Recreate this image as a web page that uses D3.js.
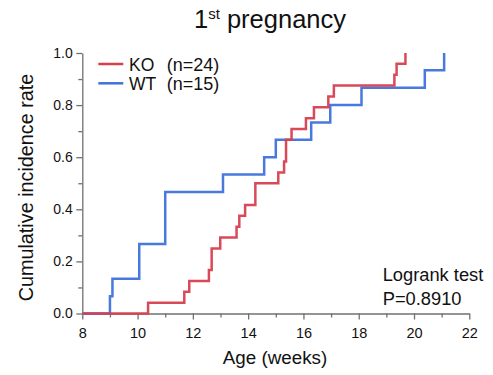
<!DOCTYPE html>
<html>
<head>
<meta charset="utf-8">
<script src="https://cdn.jsdelivr.net/npm/d3@7"></script>
<style>
  body { margin: 0; background: #fff; }
  text { font-family: "Liberation Sans", Arial, sans-serif; fill: #111; }
</style>
</head>
<body>
<figure id="chart" style="margin:0"></figure>
<script>
// event weeks (one entry per animal, repeats = ties)
const koWeeks = [10.38, 11.69, 11.87, 12.58, 12.68, 12.68, 12.99, 13.58, 13.68, 13.89,
  14.26, 14.26, 15.09, 15.30, 15.37, 15.37, 15.57, 16.09, 16.38, 16.90, 17.10, 19.29, 19.37, 19.69];
const wtWeeks = [9.00, 9.09, 10.06, 10.06, 11.00, 11.00, 11.00, 13.09, 14.58, 15.00,
  16.28, 16.97, 18.10, 20.39, 21.09];
const groups = ["KO", "WT"];
const groupN = [24, 15];
const groupColors = ["#d7404f", "#3f72dc"];
const xTicks = [8, 10, 12, 14, 16, 18, 20, 22];
const yTicks = [0, 0.2, 0.4, 0.6, 0.8, 1.0];

const width = 493, height = 375;
const plotLeft = 82.3, plotRight = 469.3, plotTop = 53, plotBottom = 313.5;

const svg = d3.select("#chart").append("svg")
  .attr("width", width)
  .attr("height", height);

const x = d3.scaleLinear().domain([8, 22]).range([plotLeft, plotRight]);
const y = d3.scaleLinear().domain([0, 1]).range([plotBottom, plotTop]);

// minor ticks first, then the labelled axis on top
svg.append("g")
  .attr("transform", "translate(0," + plotBottom + ")")
  .call(d3.axisBottom(x).tickValues(d3.range(9, 22, 2)).tickSize(4).tickFormat(""))
  .call(g => g.select(".domain").remove());
svg.append("g")
  .attr("transform", "translate(" + plotLeft + ",0)")
  .call(d3.axisLeft(y).tickValues(d3.range(0.1, 1, 0.2)).tickSize(4).tickFormat(""))
  .call(g => g.select(".domain").remove());

const xAxis = svg.append("g")
  .attr("transform", "translate(0," + plotBottom + ")")
  .call(d3.axisBottom(x).tickValues(xTicks).tickSize(6).tickPadding(8).tickSizeOuter(0));
const yAxis = svg.append("g")
  .attr("transform", "translate(" + plotLeft + ",0)")
  .call(d3.axisLeft(y).tickValues(yTicks).tickSize(6).tickPadding(3.5).tickSizeOuter(0)
    .tickFormat(d3.format(".1f")));

svg.selectAll(".tick line, .domain").attr("stroke", "#707070").attr("stroke-width", 1.3);
xAxis.selectAll("text").style("font-size", "14.5px").style("fill", "#111");
yAxis.selectAll("text").style("font-size", "14px").style("fill", "#111");

// step curves
const line = d3.line()
  .x(d => x(d[0]))
  .y(d => y(d[1]))
  .curve(d3.curveStepAfter);

function steps(weeks, n) {
  const pts = [[8, 0]];
  weeks.forEach((w, i) => pts.push([w, (i + 1) / n]));
  return pts;
}

const series = [steps(wtWeeks, groupN[1]), steps(koWeeks, groupN[0])];
const seriesColors = [groupColors[1], groupColors[0]];
svg.selectAll(".curve")
  .data(series)
  .enter()
  .append("path")
  .attr("class", "curve")
  .attr("d", line)
  .attr("fill", "none")
  .attr("stroke", (d, i) => seriesColors[i])
  .attr("stroke-width", 2.5)
  .attr("stroke-opacity", 0.95);

// legend
const legend = svg.append("g");
groups.forEach((name, i) => {
  const ly = 64 + i * 19.3;
  legend.append("line")
    .attr("x1", 98.3).attr("x2", 123.3)
    .attr("y1", ly).attr("y2", ly)
    .attr("stroke", groupColors[i]).attr("stroke-width", 2.5);
  legend.append("text")
    .attr("x", 129).attr("y", ly + 6.7)
    .style("font-size", "17.5px")
    .text(name);
  legend.append("text")
    .attr("x", 166.7).attr("y", ly + 6.7)
    .style("font-size", "18px")
    .text("(n=" + groupN[i] + ")");
});

// title
const title = svg.append("text")
  .attr("x", 270).attr("y", 28)
  .attr("text-anchor", "middle")
  .style("font-size", "25.5px");
title.append("tspan").text("1");
title.append("tspan").attr("dy", -9).style("font-size", "15px").text("st");
title.append("tspan").attr("dy", 9).text(" pregnancy");

// axis titles
svg.append("text")
  .attr("x", 275).attr("y", 364)
  .attr("text-anchor", "middle")
  .style("font-size", "18.8px")
  .text("Age (weeks)");
svg.append("text")
  .attr("transform", "translate(33,187.5) rotate(-90)")
  .attr("text-anchor", "middle")
  .style("font-size", "19.8px")
  .text("Cumulative incidence rate");

// test annotation
svg.append("text").attr("x", 382.7).attr("y", 280.7).style("font-size", "18.3px").text("Logrank test");
svg.append("text").attr("x", 382.7).attr("y", 305).style("font-size", "18.3px").text("P=0.8910");
</script>
</body>
</html>
